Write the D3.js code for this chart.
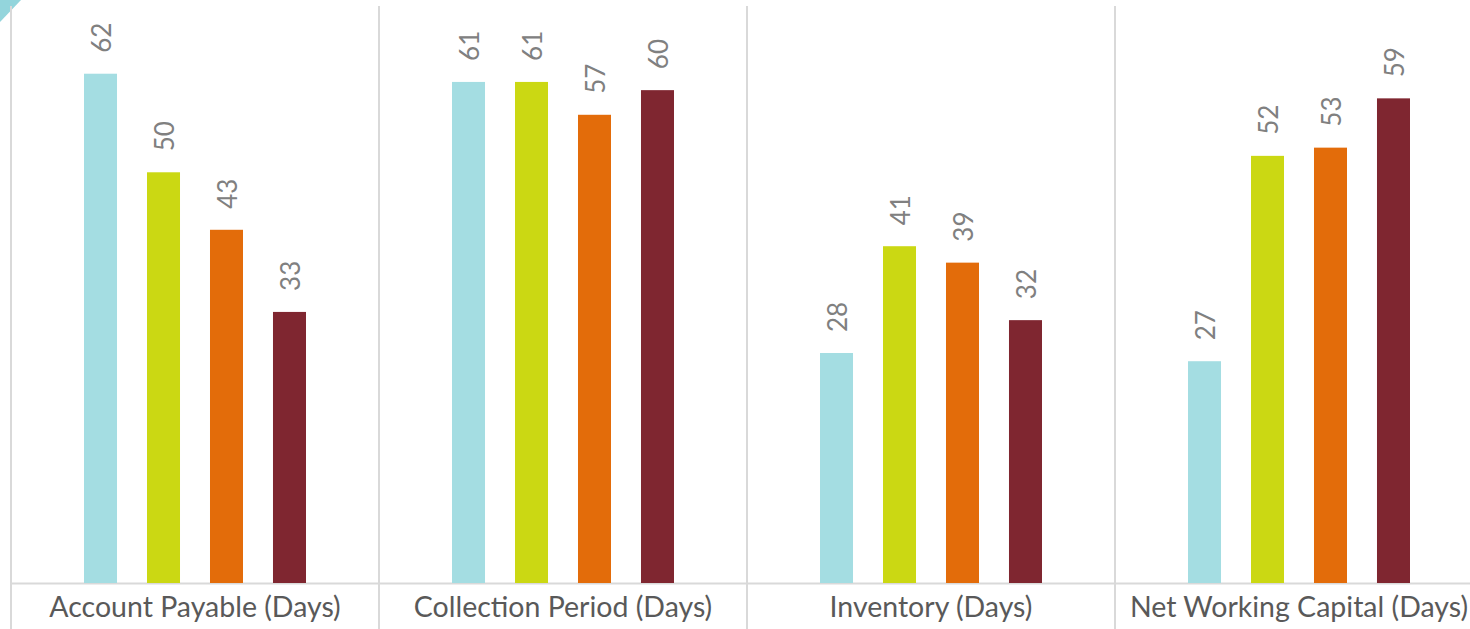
<!DOCTYPE html>
<html>
<head>
<meta charset="utf-8">
<script src="https://cdn.jsdelivr.net/npm/d3@7"></script>
<style>
  html, body { margin: 0; padding: 0; background: #fff; overflow: hidden; }
</style>
</head>
<body>
<div id="chart"></div>
<script>
var categories = ["Account Payable (Days)", "Collection Period (Days)", "Inventory (Days)", "Net Working Capital (Days)"];
var series = ["Series 1", "Series 2", "Series 3", "Series 4"];
var colors = ["#a4dde2", "#cbd813", "#e36c0a", "#7f2630"];
// one row per series, values in category order
var s1 = [62, 61, 28, 27];
var s2 = [50, 61, 41, 52];
var s3 = [43, 57, 39, 53];
var s4 = [33, 60, 32, 59];
var values = [s1, s2, s3, s4];

var width = 1470,
  height = 629;

var svg = d3.select("#chart")
  .append("svg")
  .attr("width", width)
  .attr("height", height);

var x0 = d3.scaleBand()
  .domain(categories)
  .range([11, 1483]);

var x1 = d3.scaleBand()
  .domain(series)
  .range([0, x0.bandwidth()])
  .paddingInner(0.476)
  .paddingOuter(1.159);

var y = d3.scaleLinear()
  .domain([0, 70])
  .range([583, 8]);

// corner decoration
svg.append("polygon")
  .attr("points", "0,0 21,0 0,22")
  .attr("fill", "#93d5dc");

// category separators
var seps = categories.map(function(c) { return x0(c); });
seps.push(x0.range()[1]);
svg.selectAll(".sep")
  .data(seps)
  .enter().append("line")
  .attr("class", "sep")
  .attr("x1", function(d) { return d; })
  .attr("x2", function(d) { return d; })
  .attr("y1", 6)
  .attr("y2", height)
  .attr("stroke", "#d9d9d9")
  .attr("stroke-width", 2);

// baseline
svg.append("line")
  .attr("x1", x0.range()[0])
  .attr("x2", x0.range()[1])
  .attr("y1", y(0) + 0.5)
  .attr("y2", y(0) + 0.5)
  .attr("stroke", "#d9d9d9")
  .attr("stroke-width", 2);

var rows = [];
categories.forEach(function(c, ci) {
  series.forEach(function(s, si) {
    rows.push({cat: c, ser: s, si: si, v: values[si][ci]});
  });
});

svg.selectAll(".bar")
  .data(rows)
  .enter().append("rect")
  .attr("class", "bar")
  .attr("x", function(d) { return x0(d.cat) + x1(d.ser); })
  .attr("y", function(d) { return y(d.v); })
  .attr("width", x1.bandwidth())
  .attr("height", function(d) { return y(0) - y(d.v); })
  .attr("fill", function(d) { return colors[d.si]; });

svg.selectAll(".val")
  .data(rows)
  .enter().append("text")
  .attr("class", "val")
  .attr("transform", function(d) {
    var cx = x0(d.cat) + x1(d.ser) + x1.bandwidth() / 2;
    return "translate(" + (cx + 1) + "," + (y(d.v) - 21) + ") rotate(-90)";
  })
  .attr("dy", "0.35em")
  .attr("text-anchor", "start")
  .attr("font-family", "Lato")
  .attr("font-size", "26px")
  .attr("fill", "#808080")
  .text(function(d) { return d.v; });

svg.selectAll(".cat")
  .data(categories)
  .enter().append("text")
  .attr("class", "cat")
  .attr("x", function(d) { return x0(d) + x0.bandwidth() / 2; })
  .attr("y", 617)
  .attr("text-anchor", "middle")
  .attr("font-family", "Lato")
  .attr("font-size", "28.5px")
  .attr("fill", "#595959")
  .text(function(d) { return d; });
</script>
</body>
</html>
